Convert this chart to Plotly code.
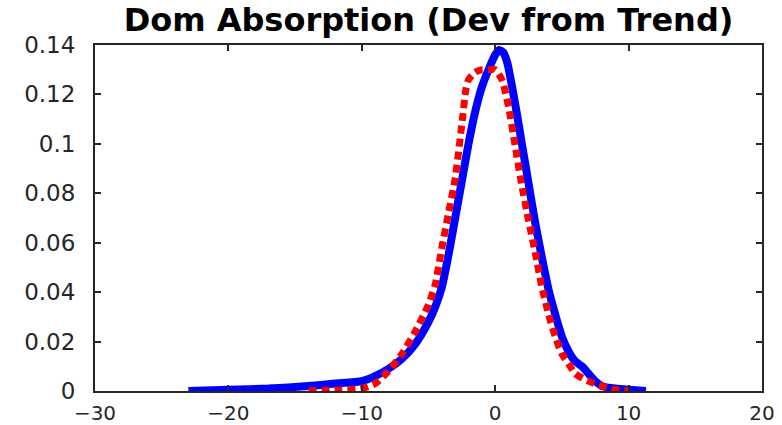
import plotly.graph_objects as go

# Blue solid density
blue_x = [-23, -20, -17, -14, -12, -10, -9, -8, -7, -6, -5, -4.5, -4, -3.5, -3, -2.5, -2, -1.5, -1, -0.5,
          0, 0.3, 0.6, 0.9, 1.2, 1.6, 2, 2.5, 3, 3.5, 4, 4.5, 5, 5.5, 6, 6.5, 7, 7.5, 8, 9, 10, 11.3]
blue_y = [0, 0.0005, 0.001, 0.002, 0.003, 0.004, 0.006, 0.009, 0.013, 0.019, 0.028, 0.034, 0.042, 0.055,
          0.07, 0.085, 0.1, 0.113, 0.123, 0.13, 0.136, 0.138, 0.137, 0.133, 0.125, 0.113, 0.1, 0.084,
          0.068, 0.054, 0.041, 0.031, 0.022, 0.016, 0.012, 0.010, 0.007, 0.004, 0.002, 0.001, 0.0005, 0]

# Red dotted density
red_x = [-14, -12, -10, -9, -8, -7, -6, -5, -4.5, -4, -3.5, -3, -2.5, -2.2, -2, -1.5, -1, -0.5, 0, 0.5,
         1, 1.5, 2, 2.5, 3, 3.5, 4, 4.5, 5, 5.5, 6, 7, 8, 9, 10]
red_y = [0, 0.0003, 0.001, 0.003, 0.008, 0.015, 0.024, 0.035, 0.043, 0.058, 0.072, 0.086, 0.108, 0.122,
         0.126, 0.129, 0.13, 0.13, 0.13, 0.126, 0.115, 0.099, 0.083, 0.069, 0.056, 0.042, 0.031, 0.022,
         0.015, 0.011, 0.007, 0.004, 0.002, 0.0005, 0]

x_ticks = [-30, -20, -10, 0, 10, 20]
y_ticks = [0, 0.02, 0.04, 0.06, 0.08, 0.1, 0.12, 0.14]
y_tick_text = ["0", "0.02", "0.04", "0.06", "0.08", "0.1", "0.12", "0.14"]

title_text = "Dom Absorption (Dev from Trend)"

fig = go.Figure()
fig.add_trace(go.Scatter(x=blue_x, y=blue_y, mode="lines",
                         line=dict(color="#0000ff", width=8, shape="spline", smoothing=0.6),
                         showlegend=False, hoverinfo="skip"))
fig.add_trace(go.Scatter(x=red_x, y=red_y, mode="lines",
                         line=dict(color="#ff0000", width=7, dash="8px,5px", shape="spline", smoothing=0.6),
                         showlegend=False, hoverinfo="skip"))

axis_common = dict(showline=True, linecolor="#262626", linewidth=2, mirror="ticks",
                   ticks="inside", ticklen=6, tickwidth=1.5, tickcolor="#262626",
                   showgrid=False, zeroline=False, automargin=False)

fig.update_layout(
    width=782, height=425,
    margin=dict(l=95, r=20, t=45, b=34),
    paper_bgcolor="white", plot_bgcolor="white",
    title=dict(text=title_text, x=0.548, xanchor="center", y=0.953, yanchor="middle",
               yref="container",
               font=dict(family="DejaVu Sans", size=32, color="black", weight="bold")),
    xaxis=dict(range=[-30, 20], tickvals=x_ticks, ticklabelstandoff=3,
               tickfont=dict(family="DejaVu Sans", size=20, color="#262626"), **axis_common),
    yaxis=dict(range=[0, 0.14], tickvals=y_ticks, ticktext=y_tick_text, ticklabelstandoff=13,
               tickfont=dict(family="DejaVu Sans", size=23, color="#262626"), **axis_common),
)

fig.write_html("out.html")
